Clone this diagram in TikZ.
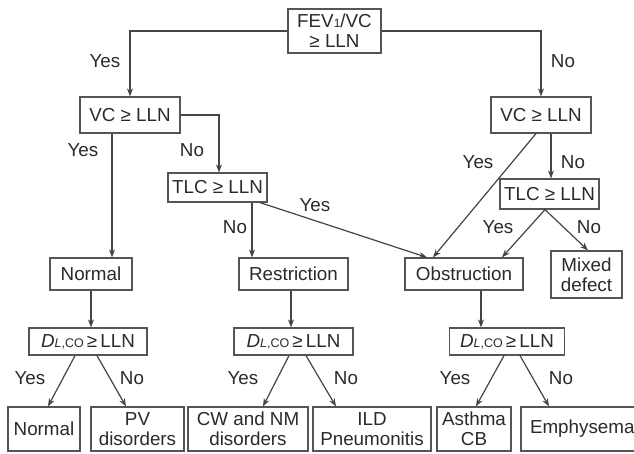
\documentclass[tikz,border=0pt]{standalone}
\usepackage{fontspec}
\setmainfont{Liberation Sans}
\usetikzlibrary{arrows.meta}
\definecolor{boxc}{HTML}{555555}
\definecolor{linec}{HTML}{444444}
\definecolor{txt}{HTML}{2A2A2A}
\newcommand{\dlco}{\textit{D}{\fontsize{12.5}{12}\selectfont\textit{L},CO}\,≥\,LLN}
\begin{document}
\begin{tikzpicture}[x=1pt,y=-1pt,
 box/.style={draw=boxc, line width=1.2pt, inner sep=0pt, align=center, text=txt, font=\fontsize{18.8}{20}\selectfont},
 lbl/.style={text=txt, font=\fontsize{18.8}{20}\selectfont, inner sep=0pt},
 arr/.style={draw=linec, line width=1.2pt, -{Stealth[length=8pt,width=6pt]}}]
\useasboundingbox (0,0) rectangle (634,453);
\fill[white] (0,0) rectangle (634,453);
\clip (0,0) rectangle (634,453);
% boxes
\node[box, minimum width=93pt, minimum height=44pt] (top) at (334.5,31) {FEV{\fontsize{12}{12}\selectfont 1}/VC\\≥ LLN};
\node[box, minimum width=100pt, minimum height=36pt] (vcL) at (130,115) {VC ≥ LLN};
\node[box, minimum width=100pt, minimum height=36pt] (vcR) at (541,115) {VC ≥ LLN};
\node[box, minimum width=99pt, minimum height=29pt] (tlcL) at (217.5,187.5) {TLC ≥ LLN};
\node[box, minimum width=99pt, minimum height=30pt] (tlcR) at (549.5,194) {TLC ≥ LLN};
\node[box, minimum width=82pt, minimum height=32pt] (nrm) at (91,274) {Normal};
\node[box, minimum width=109pt, minimum height=32pt] (res) at (293.5,274) {Restriction};
\node[box, minimum width=118pt, minimum height=32pt] (obs) at (464,274) {Obstruction};
\node[box, minimum width=71pt, minimum height=47pt] (mix) at (586.5,274.5) {Mixed\\defect};
\node[box, minimum width=118pt, minimum height=27pt] (dl1) at (88,341.5) {\dlco};
\node[box, minimum width=119pt, minimum height=27pt] (dl2) at (293.5,341.5) {\dlco};
\node[box, minimum width=115pt, minimum height=27pt] (dl3) at (507,341.5) {\dlco};
\node[box, minimum width=72pt, minimum height=44pt] (n2) at (44,429) {Normal};
\node[box, minimum width=93pt, minimum height=44pt] (pv) at (137.5,429) {PV\\disorders};
\node[box, minimum width=120pt, minimum height=44pt] (cw) at (248,429) {CW and NM\\disorders};
\node[box, minimum width=118pt, minimum height=44pt] (ild) at (372,429) {ILD\\Pneumonitis};
\node[box, minimum width=74pt, minimum height=44pt] (ast) at (474,429) {Asthma\\CB};
\node[box, minimum width=124pt, minimum height=44pt, text width=124pt, align=left] (emp) at (583,429) {\hspace*{9pt}Emphysema};
% connectors
\draw[arr] (top.west) -| (vcL.north);
\draw[arr] (top.east) -| (vcR.north);
\draw[arr] ([xshift=-18pt]vcL.south) -- ([xshift=-18pt]vcL.south |- nrm.north);
\draw[arr] (vcL.east) -| ([xshift=1.5pt]tlcL.north);
\draw[arr] ([xshift=34.5pt]tlcL.south) -- ([xshift=34.5pt]tlcL.south |- res.north);
\draw[arr] ([xshift=42.5pt]tlcL.south) -- ([xshift=-37pt]obs.north);
\draw[arr] ([xshift=-5pt]vcR.south) -- ([xshift=-31pt]obs.north);
\draw[arr] ([xshift=10pt]vcR.south) -- ([xshift=10pt]vcR.south |- tlcR.north);
\draw[arr] ([xshift=-4.5pt]tlcR.south) -- ([xshift=38pt]obs.north);
\draw[arr] ([xshift=-4.5pt]tlcR.south) -- ([xshift=1.5pt]mix.north);
\draw[arr] (nrm.south) -- (nrm.south |- dl1.north);
\draw[arr] ([xshift=-2.5pt]res.south) -- ([xshift=-2.5pt]res.south |- dl2.north);
\draw[arr] ([xshift=17pt]obs.south) -- ([xshift=17pt]obs.south |- dl3.north);
\draw[arr] ([xshift=-13pt]dl1.south) -- ([xshift=4pt]n2.north);
\draw[arr] ([xshift=9pt]dl1.south) -- ([xshift=-11.5pt]pv.north);
\draw[arr] ([xshift=-4.5pt]dl2.south) -- ([xshift=15pt]cw.north);
\draw[arr] ([xshift=12.5pt]dl2.south) -- ([xshift=-36pt]ild.north);
\draw[arr] ([xshift=-3pt]dl3.south) -- ([xshift=2pt]ast.north);
\draw[arr] ([xshift=13pt]dl3.south) -- ([xshift=-34pt]emp.north);
% labels
\node[lbl] (l1) at (105,61) {Yes};
\node[lbl] (l2) at (563,61) {No};
\node[lbl] (l3) at (83,150) {Yes};
\node[lbl] (l4) at (192,150) {No};
\node[lbl] (l5) at (478,162) {Yes};
\node[lbl] (l6) at (573,162) {No};
\node[lbl] (l7) at (315,205) {Yes};
\node[lbl] (l8) at (235,227) {No};
\node[lbl] (l9) at (498,227) {Yes};
\node[lbl] (l10) at (589,227) {No};
\node[lbl] (l11) at (30,378) {Yes};
\node[lbl] (l12) at (132,378) {No};
\node[lbl] (l13) at (243,378) {Yes};
\node[lbl] (l14) at (346,378) {No};
\node[lbl] (l15) at (455,378) {Yes};
\node[lbl] (l16) at (561,378) {No};
\end{tikzpicture}
\end{document}
